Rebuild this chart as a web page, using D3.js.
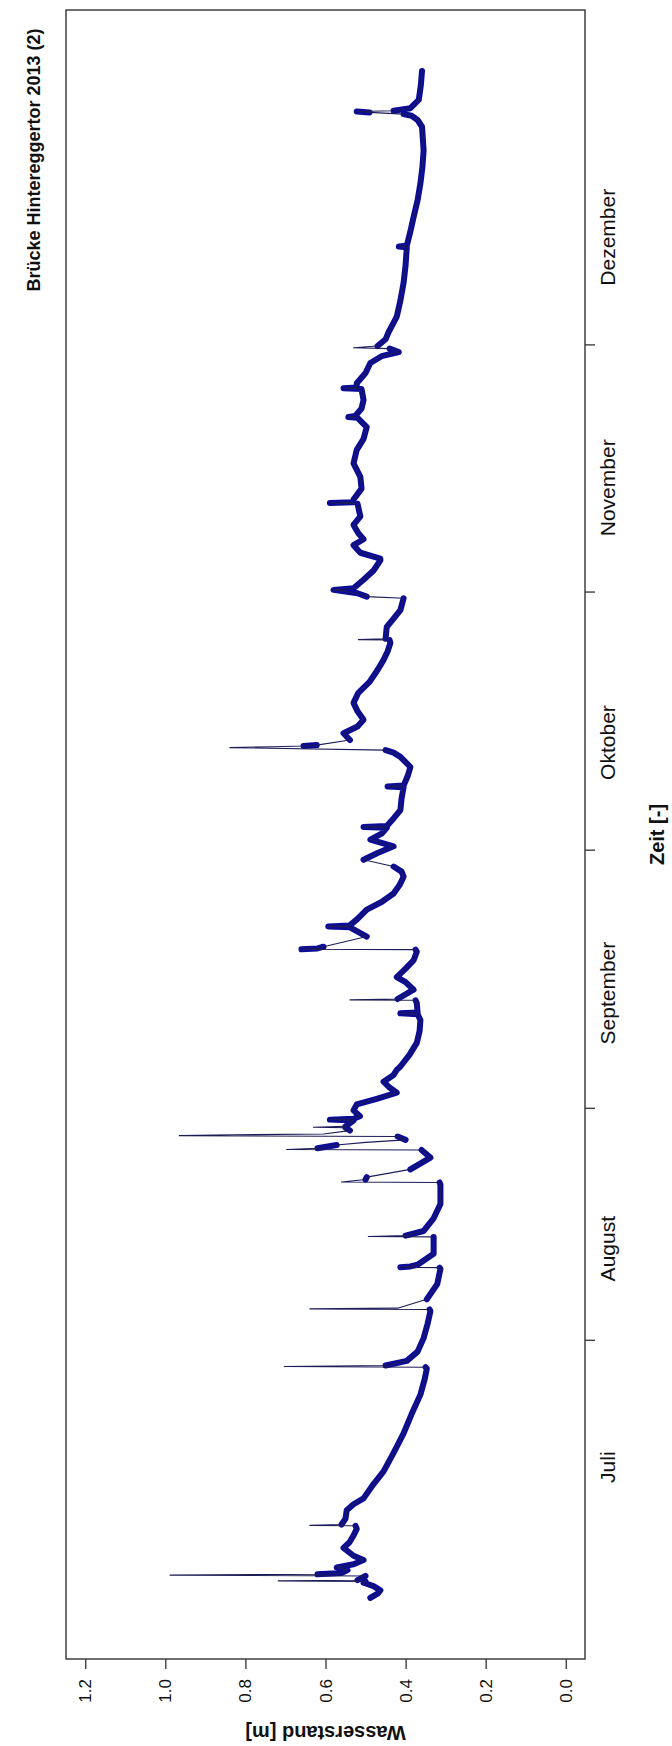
<!DOCTYPE html>
<html>
<head>
<meta charset="utf-8">
<script src="https://cdn.jsdelivr.net/npm/d3@7"></script>
<style>
  body { margin: 0; background: #fff; }
  text { font-family: "Liberation Sans", Arial, sans-serif; fill: #111; }
</style>
</head>
<body>
<svg id="chart" width="672" height="1746"></svg>
<script>
// Messreihe: Zeit als fortlaufender Tag der Aufzeichnung (ab 1. Juli), Wasserstand in m
const tag = [
  0.0, 0.5, 0.9, 1.4, 1.8, 1.95, 2.02, 2.1, 2.6, 2.7, 2.8, 2.95, 3.3, 3.62, 4.0, 4.5, 5.0, 5.93, 6.6, 7.4,
  8.18, 8.55, 8.6, 8.7, 9.4, 10.4, 11.1, 11.8, 13.5, 15.0, 17.2, 19.5, 21.8, 24.1, 26.0, 27.2, 27.35, 27.43, 27.55, 28.1,
  29.2, 30.8, 32.5, 34.0, 34.2, 34.26, 34.35, 35.4, 37.2, 39.0, 39.15, 39.2, 39.3, 39.5, 40.8, 42.6, 42.8, 42.85, 42.95, 43.5,
  45.0, 46.7, 49.0, 49.25, 49.3, 49.6, 49.88, 50.8, 52.2, 52.9, 53.1, 53.15, 53.3, 53.7, 54.0, 54.3, 54.7, 54.8, 54.9, 55.0,
  55.4, 55.75, 55.8, 55.9, 56.6, 56.7, 56.8, 57.1, 57.8, 58.5, 59.2, 59.9, 60.5, 61.2, 62.0, 62.6, 63.0, 64.4, 65.8, 67.2,
  68.5, 69.2, 69.3, 69.4, 70.5, 70.85, 70.9, 71.0, 72.1, 73.0, 73.6, 74.6, 75.6, 76.6, 76.85, 76.9, 77.0, 77.2, 78.4, 79.5,
  79.6, 79.7, 80.5, 81.6, 82.5, 83.5, 84.5, 85.5, 86.1, 86.7, 87.5, 88.3, 89.1, 89.9, 90.6, 91.3, 91.4, 91.5, 92.4, 93.4,
  94.8, 96.1, 96.2, 96.3, 97.4, 98.5, 99.7, 100.2, 100.5, 100.8, 100.9, 101.0, 101.1, 101.7, 102.5, 103.3, 104.1, 105.1, 106.1, 107.3,
  108.6, 110.0, 111.2, 112.2, 113.2, 113.55, 113.6, 113.7, 115.1, 116.1, 117.1, 118.5, 118.7, 119.1, 119.5, 119.7, 120.7, 121.8, 123.0, 123.2,
  123.9, 124.8, 125.5, 126.2, 127.2, 128.2, 129.7, 129.8, 129.9, 130.2, 131.5, 132.9, 134.5, 136.1, 137.4, 138.8, 139.9, 140.0, 140.1, 141.0,
  142.0, 143.3, 143.4, 143.5, 144.0, 145.2, 146.4, 147.2, 147.7, 148.1, 148.2, 148.4, 149.2, 150.0, 151.9, 153.8, 155.9, 158.0, 160.1, 160.2,
  160.3, 162.0, 163.7, 165.7, 167.7, 169.6, 171.6, 173.0, 174.4, 175.2, 175.7, 175.9, 176.1, 176.2, 176.3, 176.6, 177.6, 179.3, 181.0
];
const stand = [
  0.488, 0.470, 0.463, 0.480, 0.505, 0.500, 0.718, 0.520, 0.500, 0.988, 0.620, 0.560, 0.545, 0.572, 0.530, 0.505, 0.530, 0.555, 0.540, 0.530,
  0.522, 0.525, 0.639, 0.560, 0.550, 0.547, 0.530, 0.505, 0.480, 0.455, 0.430, 0.405, 0.385, 0.363, 0.352, 0.347, 0.350, 0.703, 0.450, 0.397,
  0.370, 0.355, 0.345, 0.338, 0.340, 0.639, 0.420, 0.347, 0.321, 0.313, 0.315, 0.413, 0.388, 0.370, 0.330, 0.330, 0.330, 0.493, 0.400, 0.355,
  0.330, 0.313, 0.313, 0.315, 0.560, 0.500, 0.497, 0.388, 0.338, 0.355, 0.360, 0.697, 0.620, 0.572, 0.500, 0.400, 0.420, 0.965, 0.830, 0.605,
  0.539, 0.550, 0.630, 0.550, 0.530, 0.589, 0.530, 0.514, 0.530, 0.522, 0.470, 0.422, 0.440, 0.455, 0.430, 0.422, 0.413, 0.390, 0.372, 0.365,
  0.363, 0.370, 0.413, 0.370, 0.372, 0.375, 0.539, 0.420, 0.380, 0.400, 0.422, 0.400, 0.380, 0.372, 0.375, 0.660, 0.620, 0.605, 0.497, 0.539,
  0.593, 0.540, 0.520, 0.497, 0.460, 0.430, 0.415, 0.405, 0.410, 0.430, 0.505, 0.470, 0.430, 0.488, 0.460, 0.447, 0.505, 0.447, 0.430, 0.413,
  0.410, 0.405, 0.445, 0.405, 0.395, 0.388, 0.413, 0.430, 0.450, 0.839, 0.730, 0.655, 0.622, 0.539, 0.555, 0.520, 0.505, 0.520, 0.530, 0.518,
  0.490, 0.470, 0.455, 0.445, 0.438, 0.440, 0.518, 0.450, 0.447, 0.430, 0.413, 0.405, 0.497, 0.520, 0.580, 0.530, 0.505, 0.480, 0.463, 0.463,
  0.513, 0.530, 0.505, 0.518, 0.530, 0.513, 0.520, 0.589, 0.530, 0.530, 0.510, 0.513, 0.530, 0.522, 0.505, 0.497, 0.520, 0.543, 0.526, 0.510,
  0.505, 0.510, 0.555, 0.522, 0.522, 0.500, 0.488, 0.460, 0.417, 0.440, 0.530, 0.470, 0.450, 0.443, 0.422, 0.413, 0.405, 0.400, 0.397, 0.417,
  0.397, 0.388, 0.380, 0.370, 0.363, 0.358, 0.355, 0.357, 0.359, 0.370, 0.385, 0.405, 0.490, 0.522, 0.430, 0.388, 0.367, 0.362, 0.359
];

// Achsenbeschriftung
const monatsGrenzen = [30.6, 58.1, 88.7, 119.3, 148.6];
const monatsMitten = [15.5, 41.4, 71.7, 101.4, 131.6, 161.3];
const monate = ["Juli", "August", "September", "Oktober", "November", "Dezember"];
const standTicks = [0.0, 0.2, 0.4, 0.6, 0.8, 1.0, 1.2];
const standLabels = ["0.0", "0.2", "0.4", "0.6", "0.8", "1.0", "1.2"];

const titel = "Brücke Hintereggertor 2013 (2)";
const xTitel = "Zeit [-]";
const yTitel = "Wasserstand [m]";

// Plotrahmen (Hochformat: Zeit läuft von unten nach oben, Wasserstand von rechts nach links)
const box = { left: 66, right: 585, top: 10, bottom: 1659 };

const svg = d3.select("#chart");

const tMin = d3.min(tag), tMax = d3.max(tag);
const tPad = 0.04 * (tMax - tMin);
const zeit = d3.scaleLinear()
  .domain([tMin - tPad, tMax + tPad])
  .range([box.bottom, box.top]);

const vPad = 0.04 * 1.2;
const wert = d3.scaleLinear()
  .domain([0 - vPad, 1.2 + vPad])
  .range([box.right, box.left]);

const punkte = tag.map((t, i) => ({ t, v: stand[i] }));

const linie = d3.line()
  .x(d => wert(d.v))
  .y(d => zeit(d.t));

// Rauschband der Messwerte: breite Linie nur über ruhige Abschnitte
const abschnitte = [];
let aktuell = [punkte[0]];
for (let i = 1; i < punkte.length; i++) {
  if (Math.abs(punkte[i].v - punkte[i - 1].v) < 0.06) {
    aktuell.push(punkte[i]);
  } else {
    abschnitte.push(aktuell);
    aktuell = [punkte[i]];
  }
}
abschnitte.push(aktuell);

const datenG = svg.append("g");
datenG.selectAll("path.band")
  .data(abschnitte)
  .join("path")
  .attr("class", "band")
  .attr("d", d => d.length > 1 ? linie(d) : null)
  .attr("fill", "none")
  .attr("stroke", "#0c0c98")
  .attr("stroke-width", 6)
  .attr("stroke-linejoin", "round")
  .attr("stroke-linecap", "round");

datenG.append("path")
  .datum(punkte)
  .attr("d", linie)
  .attr("fill", "none")
  .attr("stroke", "#1c1c58")
  .attr("stroke-width", 1.1)
  .attr("stroke-linejoin", "round");

// Rahmen
svg.append("rect")
  .attr("x", box.left).attr("y", box.top)
  .attr("width", box.right - box.left).attr("height", box.bottom - box.top)
  .attr("fill", "none")
  .attr("stroke", "#333")
  .attr("stroke-width", 1.4);

// Zeitachse (rechts)
const zeitAchse = svg.append("g")
  .attr("transform", `translate(${box.right},0)`)
  .call(d3.axisRight(zeit).tickValues(monatsGrenzen).tickFormat("").tickSize(10).tickSizeOuter(0));
zeitAchse.select(".domain").remove();
zeitAchse.selectAll(".tick line").attr("stroke", "#333").attr("stroke-width", 1.3);

svg.append("g").selectAll("text.monat")
  .data(monate)
  .join("text")
  .attr("class", "monat")
  .attr("transform", (d, i) => `translate(615,${zeit(monatsMitten[i])}) rotate(-90)`)
  .attr("text-anchor", "middle")
  .attr("font-size", 21)
  .text(d => d);

// Wasserstandsachse (unten)
const standAchse = svg.append("g")
  .attr("transform", `translate(0,${box.bottom})`)
  .call(d3.axisBottom(wert).tickValues(standTicks).tickFormat("").tickSize(10).tickSizeOuter(0));
standAchse.select(".domain").remove();
standAchse.selectAll(".tick line").attr("stroke", "#333").attr("stroke-width", 1.3);

svg.append("g").selectAll("text.stand")
  .data(standTicks)
  .join("text")
  .attr("class", "stand")
  .attr("transform", d => `translate(${wert(d) + 6},${box.bottom + 20}) rotate(-90)`)
  .attr("text-anchor", "end")
  .attr("font-size", 17)
  .text((d, i) => standLabels[i]);

// Achsentitel
svg.append("text")
  .attr("transform", `translate(664,${(box.top + box.bottom) / 2}) rotate(-90)`)
  .attr("text-anchor", "middle")
  .attr("font-size", 20)
  .attr("font-weight", "bold")
  .text(xTitel);

svg.append("text")
  .attr("transform", `translate(${(box.left + box.right) / 2},1726) rotate(180)`)
  .attr("text-anchor", "middle")
  .attr("font-size", 20)
  .attr("font-weight", "bold")
  .text(yTitel);

// Diagrammtitel
svg.append("text")
  .attr("transform", `translate(40,160) rotate(-90)`)
  .attr("text-anchor", "middle")
  .attr("font-size", 18)
  .attr("font-weight", "bold")
  .text(titel);
</script>
</body>
</html>
